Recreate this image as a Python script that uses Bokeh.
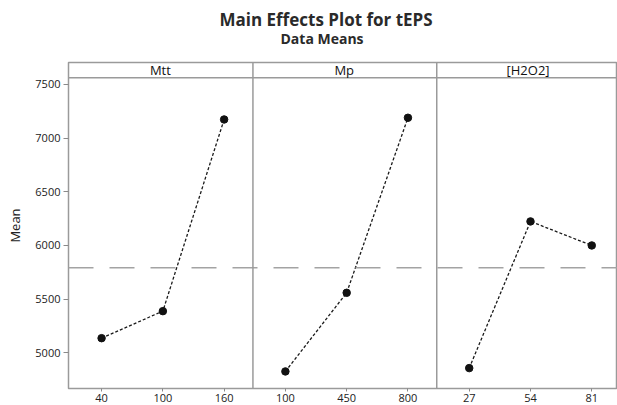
from bokeh.plotting import figure
from bokeh.models import Range1d, FixedTicker, Span, Label, Title
from bokeh.embed import file_html
from bokeh.resources import INLINE

# ---- data ----
title = "Main Effects Plot for tEPS"
subtitle = "Data Means"
factors = ["Mtt", "Mp", "[H2O2]"]
mtt_levels = ["40", "100", "160"]
mtt_means = [5136, 5388, 7174]
mp_levels = ["100", "450", "800"]
mp_means = [4826, 5559, 7190]
h2o2_levels = ["27", "54", "81"]
h2o2_means = [4857, 6224, 6000]
grand_mean = 5792
y_ticks = [5000, 5500, 6000, 6500, 7000, 7500]

FONT = "Open Sans"
GRAY = "#9a9a9a"
Y_TOP = 7705
STRIP_BOTTOM = 7563

p = figure(width=617, height=405,
           x_range=Range1d(-0.54, 8.42), y_range=Range1d(4667, Y_TOP),
           output_backend="svg", toolbar_location=None,
           min_border_left=68, min_border_right=0, min_border_top=62,
           min_border_bottom=17)
p.xgrid.visible = False
p.ygrid.visible = False
p.outline_line_color = GRAY
p.outline_line_width = 1.5
p.background_fill_color = "white"
p.border_fill_color = "white"

levels_all = [mtt_levels, mp_levels, h2o2_levels]
means_all = [mtt_means, mp_means, h2o2_means]
overrides = {}
for i, (lv, mv) in enumerate(zip(levels_all, means_all)):
    xs = [3 * i + j for j in range(len(lv))]
    p.line(xs, mv, line_color="#1a1a1a", line_width=1.3, line_dash="3 2")
    p.scatter(xs, mv, marker="circle", size=7.5, fill_color="#111111",
              line_color="#111111")
    for x, l in zip(xs, lv):
        overrides[x] = l

# grand mean reference line
p.add_layout(Span(location=grand_mean, dimension="width", line_color="#a3a3a3",
                  line_width=1.5, line_dash="25 16"))

# panel separators and strip
for i in range(1, len(factors)):
    p.add_layout(Span(location=3 * i - 0.53, dimension="height",
                      line_color=GRAY, line_width=1.5))
p.add_layout(Span(location=STRIP_BOTTOM, dimension="width",
                  line_color=GRAY, line_width=1.5))
for i, f in enumerate(factors):
    p.add_layout(Label(x=3 * i + 0.96, y=(STRIP_BOTTOM + Y_TOP) / 2, text=f,
                       text_align="center", text_baseline="middle",
                       text_font=FONT, text_font_size="13px",
                       text_color="#111111"))

# titles: main title is the plot title; a white spacer keeps the subtitle off the frame
p.title.text = title
p.title.align = "left"
p.title.offset = 151
p.title.vertical_align = "middle"
p.title.standoff = -1
p.title.text_font = FONT
p.title.text_font_size = "17px"
p.title.text_font_style = "bold"
p.title.text_color = "#2a2a2a"
p.add_layout(Title(text=".", text_color="white", text_font=FONT,
                   text_font_size="10px", standoff=7.4,
                   vertical_align="middle"), "above")
p.add_layout(Title(text=subtitle, align="left", offset=212, vertical_align="middle",
                   standoff=-7, text_font=FONT, text_font_size="14px",
                   text_font_style="bold", text_color="#2a2a2a"), "above")

# axes
p.yaxis.ticker = FixedTicker(ticks=y_ticks)
p.yaxis.minor_tick_line_color = None
p.yaxis.major_tick_out = 5
p.yaxis.major_tick_in = 0
p.yaxis.major_tick_line_color = "#8a8a8a"
p.yaxis.axis_line_color = None
p.yaxis.major_label_text_font = FONT
p.yaxis.major_label_text_font_size = "11px"
p.yaxis.major_label_text_color = "#222222"
p.yaxis.major_label_standoff = 3
p.yaxis.axis_label = "Mean"
p.yaxis.axis_label_text_font = FONT
p.yaxis.axis_label_text_font_size = "13px"
p.yaxis.axis_label_text_font_style = "normal"
p.yaxis.axis_label_text_color = "#222222"
p.yaxis.axis_label_standoff = 8

p.xaxis.ticker = FixedTicker(ticks=list(overrides.keys()))
p.xaxis.major_label_overrides = overrides
p.xaxis.minor_tick_line_color = None
p.xaxis.major_tick_out = 3
p.xaxis.major_tick_in = 0
p.xaxis.major_tick_line_color = "#8a8a8a"
p.xaxis.axis_line_color = None
p.xaxis.major_label_text_font = FONT
p.xaxis.major_label_text_font_size = "11px"
p.xaxis.major_label_text_color = "#222222"
p.xaxis.major_label_standoff = 2

open("out.html", "w").write(file_html(p, INLINE))
